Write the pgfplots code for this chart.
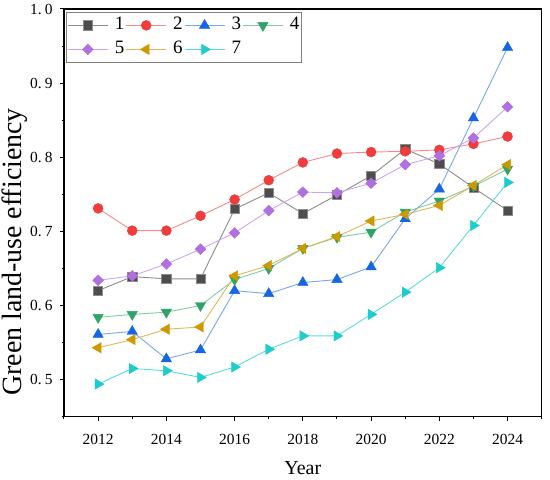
\documentclass[border=0pt]{standalone}
\usepackage{pgfplots}
\pgfplotsset{compat=1.18}
\usepackage{fontspec}
\setmainfont{Liberation Serif}
\definecolor{m1}{HTML}{4D4D4D}\definecolor{l1}{HTML}{8C8C8C}
\definecolor{m2}{HTML}{F03C3C}\definecolor{l2}{HTML}{F58A8A}
\definecolor{m3}{HTML}{1566E0}\definecolor{l3}{HTML}{78A6F0}
\definecolor{m4}{HTML}{30A468}\definecolor{l4}{HTML}{80CCA0}
\definecolor{m5}{HTML}{B070E0}\definecolor{l5}{HTML}{CDA6F0}
\definecolor{m6}{HTML}{CC9900}\definecolor{l6}{HTML}{DDB75A}
\definecolor{m7}{HTML}{1ECCCC}\definecolor{l7}{HTML}{5ADCDC}
\begin{document}
\begin{tikzpicture}
\path[use as bounding box] (0,0) rectangle (550bp,480bp);
\begin{axis}[
  at={(64bp,63.3bp)}, anchor=south west,
  scale only axis, width=477.7bp, height=407.7bp,
  xmin=2011, xmax=2025, ymin=0.45, ymax=1.0,
  xtick={2012,2014,...,2024},
  xticklabels={2012,2014,2016,2018,2020,2022,2024},
  minor xtick={2011,2013,...,2025},
  ytick={0.5,0.6,0.7,0.8,0.9,1.0},
  yticklabels={0.\hspace{0.2em}5,0.\hspace{0.2em}6,0.\hspace{0.2em}7,0.\hspace{0.2em}8,0.\hspace{0.2em}9,1.\hspace{0.2em}0},
  minor ytick={0.45,0.55,...,0.96},
  xtick pos=bottom, ytick pos=left,
  tick align=outside,
  major tick length=4bp, minor tick length=2.5bp,
  tick style={black, line width=1bp},
  axis line style={black, line width=1.3bp},
  tick label style={font=\fontsize{15.5}{17}\selectfont},
  xticklabel style={yshift=-10bp},
  yticklabel style={xshift=-4bp},
  xlabel={Year},
  xlabel style={at={(axis description cs:0.5,-0.126)}, anchor=center, font=\fontsize{20}{22}\selectfont},
  ylabel={Green land-use efficiency},
  ylabel style={at={(axis description cs:-0.1036,0.404)}, anchor=center, font=\fontsize{28}{30}\selectfont},
  legend columns=4,
  legend cell align=left,
  legend style={at={(axis description cs:0,1)}, xshift=2bp, yshift=-3bp, anchor=north west,
    draw=gray, line width=0.8bp, inner sep=1bp,
    font=\fontsize{19}{19}\selectfont,
    nodes={inner sep=1.5bp, text height=15bp, text depth=6bp},
    /tikz/every even column/.append style={column sep=0bp},
    /tikz/every odd column/.append style={column sep=5bp}},
  legend image code/.code={\draw[mark repeat=2,mark phase=2] plot coordinates {(0bp,0bp) (20bp,0bp) (40bp,0bp)};},
]
\addplot[color=l1, line width=0.9bp, mark=square*, mark size=4.6bp, mark options={fill=m1, draw=l1, line width=0.6bp}] coordinates {
(2012,0.620) (2013,0.639) (2014,0.636) (2015,0.636) (2016,0.730) (2017,0.752) (2018,0.724) (2019,0.749) (2020,0.775) (2021,0.811) (2022,0.791) (2023,0.759) (2024,0.728)};
\addlegendentry{1}
\addplot[color=l2, line width=0.9bp, mark=*, mark size=5bp, mark options={fill=m2, draw=m2, line width=0.4bp}] coordinates {
(2012,0.731) (2013,0.701) (2014,0.701) (2015,0.721) (2016,0.743) (2017,0.769) (2018,0.793) (2019,0.805) (2020,0.807) (2021,0.808) (2022,0.810) (2023,0.818) (2024,0.828)};
\addlegendentry{2}
\addplot[color=l3, line width=0.9bp, mark=triangle*, mark size=6bp, mark options={fill=m3, draw=m3, line width=0.4bp}] coordinates {
(2012,0.561) (2013,0.565) (2014,0.528) (2015,0.540) (2016,0.620) (2017,0.616) (2018,0.631) (2019,0.635) (2020,0.652) (2021,0.717) (2022,0.757) (2023,0.853) (2024,0.948)};
\addlegendentry{3}
\addplot[color=l4, line width=0.9bp, mark=triangle*, mark size=6bp, mark options={fill=m4, draw=m4, line width=0.4bp, rotate=180}] coordinates {
(2012,0.584) (2013,0.588) (2014,0.591) (2015,0.600) (2016,0.635) (2017,0.650) (2018,0.677) (2019,0.692) (2020,0.699) (2021,0.726) (2022,0.741) (2023,0.761) (2024,0.784)};
\addlegendentry{4}
\addplot[color=l5, line width=0.9bp, mark=diamond*, mark size=5.4bp, mark options={fill=m5, draw=m5, line width=0.4bp, xscale=1.35}] coordinates {
(2012,0.634) (2013,0.640) (2014,0.656) (2015,0.676) (2016,0.698) (2017,0.728) (2018,0.753) (2019,0.752) (2020,0.765) (2021,0.790) (2022,0.802) (2023,0.826) (2024,0.868)};
\addlegendentry{5}
\addplot[color=l6, line width=0.9bp, mark=triangle*, mark size=6bp, mark options={fill=m6, draw=m6, line width=0.4bp, rotate=90}] coordinates {
(2012,0.543) (2013,0.554) (2014,0.568) (2015,0.571) (2016,0.640) (2017,0.654) (2018,0.677) (2019,0.693) (2020,0.714) (2021,0.723) (2022,0.735) (2023,0.762) (2024,0.790)};
\addlegendentry{6}
\addplot[color=l7, line width=0.9bp, mark=triangle*, mark size=6bp, mark options={fill=m7, draw=m7, line width=0.4bp, rotate=-90}] coordinates {
(2012,0.494) (2013,0.515) (2014,0.512) (2015,0.503) (2016,0.517) (2017,0.541) (2018,0.559) (2019,0.559) (2020,0.588) (2021,0.618) (2022,0.651) (2023,0.708) (2024,0.766)};
\addlegendentry{7}
\end{axis}
\end{tikzpicture}
\end{document}
